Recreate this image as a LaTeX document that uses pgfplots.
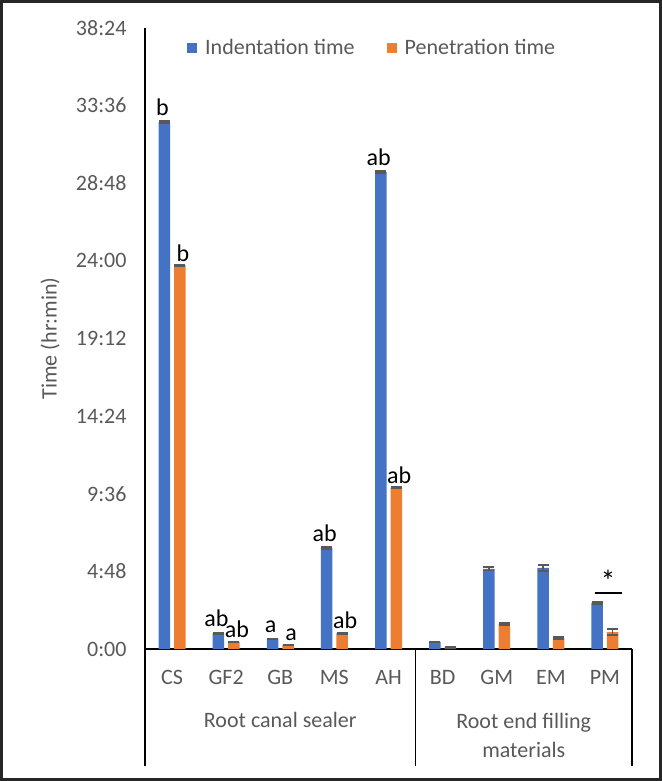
\documentclass[border=0pt]{standalone}
\usepackage{fontspec}
\setmainfont{Carlito}
\usepackage{pgfplots}
\usepackage{pgfplotstable}
\pgfplotsset{compat=1.18}

\definecolor{indblue}{HTML}{4472C4}
\definecolor{penorange}{HTML}{ED7D31}
\definecolor{txtgray}{HTML}{595959}

% times in minutes
\pgfplotstableread{
x ind inderr indlab pen penerr penlab
0 1955 3 b  1423 3 b
1 59   2 ab 26   2 ab
2 37   2 a  15   2 a
3 375  3 ab 59   2 ab
4 1769 3 ab 598  2 ab
5 26   2 {} 7    2 {}
6 297  6 {} 93   3 {}
7 301  11 {} 41  3 {}
8 171  3 {} 63   12 {}
}\times

\begin{document}
\begin{tikzpicture}
\begin{axis}[
    at={(145bp,132bp)}, anchor=south west,
    scale only axis, width=487bp, height=621bp,
    xmin=-0.5, xmax=8.5, ymin=0, ymax=2304,
    axis lines=left,
    axis line style={-, black, line width=1.2bp},
    xtick={0,...,8},
    xticklabels={CS,GF2,GB,MS,AH,BD,GM,EM,PM},
    ytick={0,288,...,2304},
    yticklabels={0:00,4:48,9:36,14:24,19:12,24:00,28:48,33:36,38:24},
    tick style={draw=none},
    major tick length=0pt,
    font=\fontsize{22bp}{26bp}\selectfont,
    ticklabel style={text=txtgray},
    yticklabel style={xshift=-15bp},
    xticklabel style={yshift=-18bp},
    ylabel={Time (hr:min)},
    every axis y label/.style={at={(axis description cs:-0.195,0.5)}, rotate=90, anchor=center, text=txtgray},
    ybar=4bp, bar width=11.5bp,
    clip=false,
    legend columns=2,
    legend style={draw=none, fill=none, inner sep=0pt, anchor=west, at={(0.0862,0.968)},
        text=txtgray, font=\fontsize{22bp}{26bp}\selectfont,
        /tikz/every odd column/.append style={column sep=6bp},
        /tikz/every even column/.append style={column sep=30bp}},
    legend image code/.code={\fill[#1] (0bp,-5bp) rectangle (10bp,5bp);},
    nodes near coords={\pgfplotspointmeta},
    every node near coord/.append style={font=\fontsize{24bp}{28bp}\selectfont, text=black, inner sep=4bp},
    error bars/y dir=both, error bars/y explicit,
    error bars/error mark=|,
    error bars/error bar style={txtgray, line width=1.2bp},
    error bars/error mark options={txtgray, line width=1.8bp, mark size=5.5bp},
]
\addplot[fill=indblue, draw=none, point meta=explicit symbolic,
    every node near coord/.append style={xshift=-2bp, yshift=2bp}]
    table[x=x, y=ind, y error=inderr, meta=indlab] {\times};
\addplot[fill=penorange, draw=none, point meta=explicit symbolic,
    every node near coord/.append style={xshift=3bp}]
    table[x=x, y=pen, y error=penerr, meta=penlab] {\times};
\legend{Indentation time, Penetration time}

% category table lines below the axis
\draw[line width=1.2bp] (axis cs:-0.5,0) -- ([yshift=-117bp]axis cs:-0.5,0);
\draw[line width=1.2bp] (axis cs:4.5,0) -- ([yshift=-117bp]axis cs:4.5,0);
\draw[line width=1.2bp] (axis cs:8.5,0) -- ([yshift=-117bp]axis cs:8.5,0);
\node[text=txtgray, anchor=center, yshift=-71bp] at (axis cs:2,0) {Root canal sealer};
\node[text=txtgray, anchor=center, align=center, yshift=-86bp, font=\fontsize{22bp}{29bp}\selectfont]
    at (axis cs:6.5,0) {Root end filling\\materials};

% significance marker for PM
\draw[line width=1.5bp] (axis cs:7.82,208) -- (axis cs:8.32,208);
\node[anchor=center, font=\fontsize{30bp}{30bp}\selectfont] at (axis cs:8.06,252) {*};
\end{axis}
\draw[line width=3bp, black!85] (1.5bp,1.5bp) rectangle (660.5bp,779.5bp);
\end{tikzpicture}
\end{document}
